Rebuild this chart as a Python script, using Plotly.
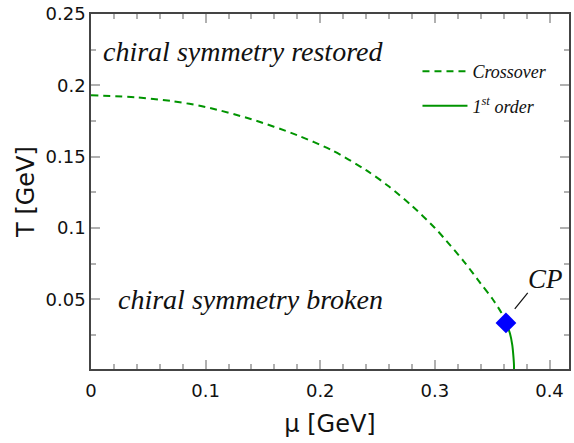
import plotly.graph_objects as go

# Chiral phase boundary in the (mu, T) plane, values in GeV
mu_crossover = [0.0, 0.04, 0.07, 0.10, 0.14, 0.18, 0.21, 0.24, 0.26, 0.28, 0.30, 0.31, 0.325, 0.34, 0.35, 0.358, 0.362]
T_crossover = [0.193, 0.1915, 0.189, 0.1848, 0.1762, 0.165, 0.1545, 0.1405, 0.129, 0.1155, 0.100, 0.091, 0.0768, 0.061, 0.0505, 0.0405, 0.0334]

mu_first = [0.362, 0.3655, 0.3675, 0.3685, 0.369, 0.369]
T_first = [0.0334, 0.026, 0.018, 0.010, 0.004, 0.0]

cp_mu = [0.362]
cp_T = [0.0334]

x_ticks = [0, 0.1, 0.2, 0.3, 0.4]
y_ticks = [0.05, 0.1, 0.15, 0.2, 0.25]

green = "#009400"
serif = "Liberation Serif, Times New Roman, Times, serif"
sans = "DejaVu Sans"

fig = go.Figure()
fig.add_trace(go.Scatter(
    x=mu_crossover, y=T_crossover, mode="lines", name="Crossover",
    line=dict(color=green, width=2, dash="7px,5px", shape="spline", smoothing=0.8),
    legendgroup="a"))
fig.add_trace(go.Scatter(
    x=mu_first, y=T_first, mode="lines", name="1<sup>st</sup> order",
    line=dict(color=green, width=2, shape="spline", smoothing=0.8), legendgroup="b"))
fig.add_trace(go.Scatter(
    x=cp_mu, y=cp_T, mode="markers", showlegend=False,
    marker=dict(symbol="diamond", size=16, color="#0000ff")))

axis_common = dict(
    showgrid=False, zeroline=False, showline=True, linecolor="#444",
    linewidth=1.5, mirror="allticks", ticks="inside", ticklen=9,
    tickcolor="#b0b0b0", tickwidth=1.5,
    tickfont=dict(family=sans, size=18, color="#111"),
)

fig.update_xaxes(
    range=[0, 0.417], tickvals=x_ticks, ticktext=["0", "0.1", "0.2", "0.3", "0.4"],
    minor=dict(ticks="inside", dtick=0.02, ticklen=5, tickcolor="#b0b0b0"),
    ticklabelstandoff=5,
    title=dict(text="μ [GeV]", font=dict(family=sans, size=24, color="#111"), standoff=15),
    **axis_common)
fig.update_yaxes(
    range=[0.0011, 0.25], tickvals=y_ticks, ticktext=["0.05", "0.1", "0.15", "0.2", "0.25"],
    minor=dict(ticks="inside", dtick=0.025, ticklen=5, tickcolor="#b0b0b0"),
    title=dict(text="T [GeV]", font=dict(family=sans, size=24, color="#111"), standoff=4),
    **axis_common)

label_font = dict(family=serif, size=28, color="#111", style="italic")
fig.add_annotation(x=0.1325, y=0.224, text="chiral symmetry restored",
                   showarrow=False, font=label_font)
fig.add_annotation(x=0.1395, y=0.0495, text="chiral symmetry broken",
                   showarrow=False, font=label_font)
fig.add_annotation(x=0.3965, y=0.0645, text="CP", showarrow=False,
                   font=dict(family=serif, size=27, color="#111", style="italic"))
fig.add_shape(type="line", x0=0.3697, y0=0.0432, x1=0.381, y1=0.0544,
              line=dict(color="#111", width=1.2))

fig.update_layout(
    width=574, height=443,
    margin=dict(l=91, r=3, t=13, b=74),
    paper_bgcolor="white", plot_bgcolor="white",
    legend=dict(x=0.683, y=0.89, xanchor="left", yanchor="top",
                bgcolor="rgba(0,0,0,0)", itemwidth=45, tracegroupgap=8,
                font=dict(family=serif, size=18, color="#111", style="italic")),
)

fig.write_html("out.html")
